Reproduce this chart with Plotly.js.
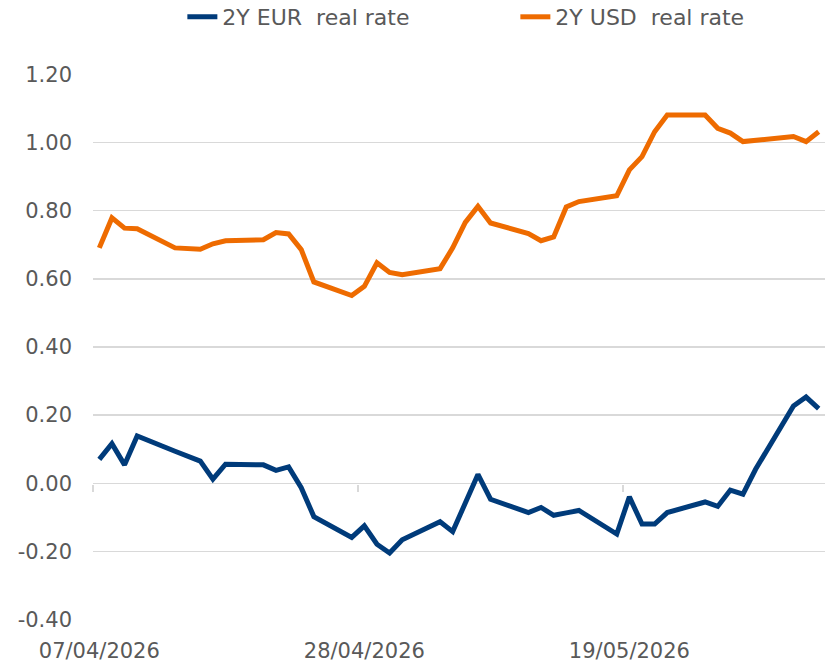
<!DOCTYPE html>
<html>
<head>
<meta charset="utf-8">
<script src="https://cdn.plot.ly/plotly-3.0.1.min.js"></script>
<style>
  html, body { margin: 0; padding: 0; background: #ffffff; }
  #chart { width: 830px; height: 664px; }
</style>
</head>
<body>
<div id="chart"></div>
<script>
const dates = [
  '2026-04-07','2026-04-08','2026-04-09','2026-04-10',
  '2026-04-13','2026-04-14','2026-04-15','2026-04-16','2026-04-17',
  '2026-04-20','2026-04-21','2026-04-22','2026-04-23','2026-04-24',
  '2026-04-27','2026-04-28','2026-04-29','2026-04-30','2026-05-01',
  '2026-05-04','2026-05-05','2026-05-06','2026-05-07','2026-05-08',
  '2026-05-11','2026-05-12','2026-05-13','2026-05-14','2026-05-15',
  '2026-05-18','2026-05-19','2026-05-20','2026-05-21','2026-05-22',
  '2026-05-25','2026-05-26','2026-05-27','2026-05-28','2026-05-29',
  '2026-06-01','2026-06-02','2026-06-03'
];
const eurRealRate = [
  0.070, 0.116, 0.054, 0.139,
  0.094, 0.080, 0.065, 0.012, 0.056,
  0.054, 0.038, 0.048, -0.013, -0.098,
  -0.159, -0.125, -0.179, -0.205, -0.166,
  -0.113, -0.142, -0.058, 0.026, -0.047,
  -0.086, -0.071, -0.094, -0.087, -0.080,
  -0.149, -0.040, -0.120, -0.120, -0.086,
  -0.055, -0.068, -0.020, -0.032, 0.041,
  0.227, 0.253, 0.219
];
const usdRealRate = [
  0.691, 0.779, 0.749, 0.747,
  0.691, 0.689, 0.687, 0.703, 0.712,
  0.715, 0.736, 0.732, 0.686, 0.591,
  0.551, 0.578, 0.647, 0.619, 0.612,
  0.630, 0.691, 0.766, 0.813, 0.764,
  0.733, 0.712, 0.723, 0.811, 0.827,
  0.844, 0.920, 0.959, 1.032, 1.081,
  1.081, 1.042, 1.028, 1.003, 1.007,
  1.018, 1.003, 1.032
];
const seriesNames = ['2Y EUR\u00a0 real rate', '2Y USD\u00a0 real rate'];
const xTickVals = ['2026-04-07', '2026-04-28', '2026-05-19'];
const xTickText = ['07/04/2026', '28/04/2026', '19/05/2026'];
const xBoundaryTicks = ['2026-04-06 12:00', '2026-04-27 12:00', '2026-05-18 12:00'];
const xRange = ['2026-04-06 12:00', '2026-06-03 12:00'];
const yTickVals = [-0.4, -0.2, 0, 0.2, 0.4, 0.6, 0.8, 1.0, 1.2];
const yTickText = ['-0.40', '-0.20', '0.00', '0.20', '0.40', '0.60', '0.80', '1.00', '1.20'];

const gray = '#595959';
const grid = '#d9d9d9';

const traces = [
  { x: dates, y: eurRealRate, name: seriesNames[0], type: 'scatter', mode: 'lines',
    line: { color: '#003B7A', width: 5 } },
  { x: dates, y: usdRealRate, name: seriesNames[1], type: 'scatter', mode: 'lines',
    line: { color: '#EE6B00', width: 5 } },
  { x: xBoundaryTicks, y: xBoundaryTicks.map(() => null), xaxis: 'x2', yaxis: 'y',
    type: 'scatter', mode: 'lines', showlegend: false, hoverinfo: 'skip',
    line: { width: 0 } }
];

const layout = {
  width: 830, height: 664,
  margin: { l: 93, r: 5, t: 74, b: 44, pad: 0, autoexpand: false },
  paper_bgcolor: '#ffffff', plot_bgcolor: '#ffffff',
  font: { family: 'DejaVu Sans, sans-serif', size: 21, color: gray },
  showlegend: true,
  legend: {
    orientation: 'h', xref: 'paper', yref: 'paper',
    x: 0.577, xanchor: 'center', y: 1.1044, yanchor: 'middle',
    font: { size: 22, color: gray },
    traceorder: 'normal', itemwidth: 30,
    entrywidth: 288, entrywidthmode: 'pixels'
  },
  xaxis: {
    type: 'date', range: xRange,
    tickvals: xTickVals, ticktext: xTickText,
    ticks: '', showgrid: false, zeroline: false, showline: false,
    ticklabelstandoff: 16,
    tickfont: { size: 21, color: gray }
  },
  xaxis2: {
    type: 'date', range: xRange, overlaying: 'x', anchor: 'free', position: 0.25, side: 'bottom',
    tickvals: xBoundaryTicks, ticks: 'outside', ticklen: 7, tickwidth: 1.3, tickcolor: grid,
    showticklabels: false, showgrid: false, zeroline: false, showline: false
  },
  yaxis: {
    range: [-0.4015, 1.2015], tickvals: yTickVals, ticktext: yTickText,
    showgrid: true, gridcolor: grid, gridwidth: 1.3,
    zeroline: true, zerolinecolor: grid, zerolinewidth: 1.3,
    showline: false, ticks: '', ticklabelstandoff: 20,
    tickfont: { size: 21, color: gray }
  }
};

Plotly.newPlot('chart', traces, layout, { displayModeBar: false, staticPlot: true });
</script>
</body>
</html>
